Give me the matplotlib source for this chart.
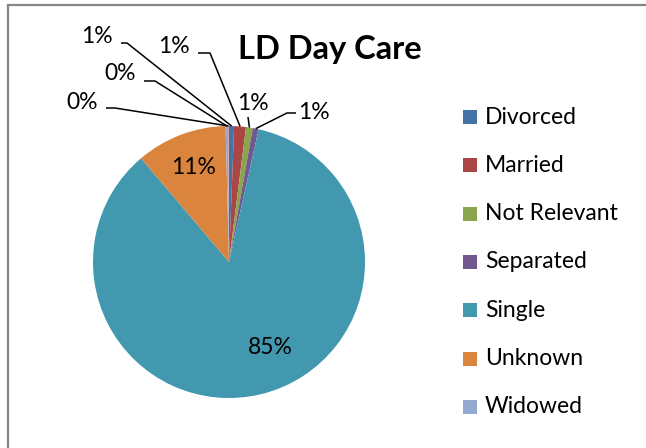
import numpy as np
import matplotlib.pyplot as plt
from matplotlib.patches import Rectangle

plt.rcParams['font.family'] = ['Lato', 'DejaVu Sans']

# data (percent of clients)
categories = ['Divorced', 'Married', 'Not Relevant', 'Separated', 'Single', 'Unknown', 'Widowed', '']
shares = [0.6, 1.4, 0.8, 0.7, 85.3, 10.8, 0.3, 0.1]
colors = ['#4572A7', '#AA4643', '#89A54E', '#71588F', '#4198AF', '#DB843D', '#93A9CF', '#D19392']

W, H = 646, 448
fig = plt.figure(figsize=(W / 100, H / 100), dpi=100)

# chart border (cropped on right/bottom like the screenshot)
fig.patches.append(Rectangle((8 / W, -0.05), 1.2, 1 - 5 / H + 0.05, transform=fig.transFigure,
                             fill=False, edgecolor='#868686', linewidth=1.6))

# pie placement in pixels
cx, cy, r = 229, 262, 136
ax = fig.add_axes([(cx - r) / W, (H - cy - r) / H, 2 * r / W, 2 * r / H])

wedges, _ = ax.pie(shares, colors=colors, startangle=90, counterclock=False,
                   wedgeprops=dict(linewidth=0))
ax.set_xlim(-1, 1)
ax.set_ylim(-1, 1)
ax.set_aspect('equal')
ax.axis('off')


def px(x, y):
    # pixel position -> pie data units
    return (x - cx) / r, (cy - y) / r


def mid(w, rad=1.0):
    a = np.deg2rad((w.theta1 + w.theta2) / 2)
    return rad * np.cos(a), rad * np.sin(a)


labels = ['%d%%' % round(s) for s in shares]
fs = 16.5

# big slices: labels inside
ax.text(*px(270, 348), labels[4], ha='center', va='center', fontsize=fs)
ax.text(*mid(wedges[5], 0.74), labels[5], ha='center', va='center', fontsize=fs)

# small slices: text position and elbow of leader line (pixels)
small = {
    0: ((97, 36), (127, 43), 'left'),
    1: ((174, 46), (210, 53), 'left'),
    2: ((253, 103), (248, 117), 'down'),
    3: ((314, 112), (287, 113), 'right'),
    6: ((120, 73), (155, 81), 'left'),
    7: ((82, 102), (115, 108), 'left'),
}
for i, (tpos, elbow, side) in small.items():
    tx, ty = px(*tpos)
    ex, ey = px(*elbow)
    wx, wy = mid(wedges[i], 1.0)
    ax.text(tx, ty, labels[i], ha='center', va='center', fontsize=fs)
    if side == 'left':
        sx, sy = px(tpos[0] + 24, elbow[1])
    elif side == 'right':
        sx, sy = px(tpos[0] - 18, elbow[1])
    else:
        sx, sy = ex, ey
    ax.plot([sx, ex, wx], [sy, ey, wy], color='black', linewidth=1.1,
            clip_on=False, solid_capstyle='butt')

fig.text(330 / W, 1 - 49 / H, 'LD Day Care', ha='center', va='center',
         fontsize=23.5, fontweight='bold')

# legend drawn by hand, as in the Excel layout
for k, (name, col) in enumerate(zip(categories[:7], colors[:7])):
    y = 117 + k * 48.3
    fig.patches.append(Rectangle((463 / W, 1 - (y + 7) / H), 14 / W, 14 / H,
                                 transform=fig.transFigure, facecolor=col, edgecolor='none'))
    fig.text(485 / W, 1 - y / H, name, ha='left', va='center', fontsize=16.5)

fig.savefig('out.png', dpi=100)
